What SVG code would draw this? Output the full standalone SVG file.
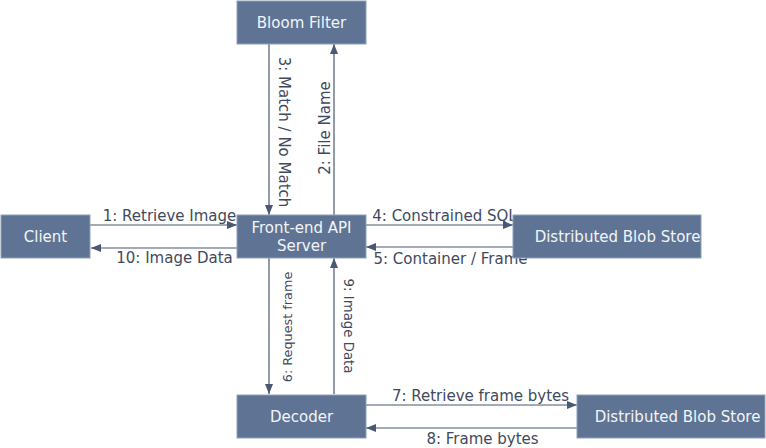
<svg xmlns="http://www.w3.org/2000/svg" width="766" height="448" viewBox="0 0 766 448">
<defs>
<marker id="ah" viewBox="0 0 10 8" refX="10" refY="4" markerWidth="10" markerHeight="8" markerUnits="userSpaceOnUse" orient="auto">
<path d="M0,0 L10,4 L0,8 z" fill="#4a5873"/>
</marker>
<style>
.node rect{fill:#5f7494;stroke:#8fa0b8;stroke-width:1}
.node text{font-family:"DejaVu Sans",sans-serif;font-size:15px;fill:#f2f4f7;text-anchor:middle}
.edge line{stroke:#4a5873;stroke-width:1.2;marker-end:url(#ah)}
.lbl{font-family:"DejaVu Sans",sans-serif;font-size:15px;fill:#3f4a5e;text-anchor:middle}
.vl{font-family:"DejaVu Sans",sans-serif;font-size:15px;fill:#3f4a5e;text-anchor:middle}
</style>
</defs>
<rect width="766" height="448" fill="#ffffff"/>
<g id="connectors" class="edge">
<line x1="90" y1="225" x2="237" y2="225"/>
<line x1="237" y1="248" x2="91" y2="248"/>
<line x1="366" y1="225" x2="513" y2="225"/>
<line x1="513" y1="247" x2="366" y2="247"/>
<line x1="269" y1="44" x2="269" y2="215"/>
<line x1="334" y1="215" x2="334" y2="44"/>
<line x1="269" y1="258" x2="269" y2="394"/>
<line x1="334" y1="394" x2="334" y2="258"/>
<line x1="366" y1="405" x2="577" y2="405"/>
<line x1="577" y1="428" x2="366" y2="428"/>
</g>
<g id="labels">
<text class="lbl" x="169.5" y="221">1: Retrieve Image</text>
<text class="lbl" x="174.5" y="263">10: Image Data</text>
<text class="lbl" x="444.5" y="221">4: Constrained SQL</text>
<text class="lbl" x="450.5" y="264">5: Container / Frame</text>
<text class="lbl" x="480.5" y="401">7: Retrieve frame bytes</text>
<text class="lbl" x="482.5" y="444">8: Frame bytes</text>
<text class="vl" transform="translate(279,132) rotate(90)">3: Match / No Match</text>
<text class="vl" transform="translate(330,128) rotate(-90)">2: File Name</text>
<text class="vl" transform="translate(292,327) rotate(-90)" style="font-size:12.8px">6: Request frame</text>
<text class="vl" transform="translate(344,326) rotate(90)" style="font-size:13.3px">9: Image Data</text>
</g>
<g id="bloom" class="node"><rect x="237" y="1" width="129" height="43"/><text x="301.5" y="27.5">Bloom Filter</text></g>
<g id="client" class="node"><rect x="1" y="215" width="89" height="43"/><text x="45.5" y="241.5">Client</text></g>
<g id="frontend" class="node"><rect x="237" y="215" width="129" height="43"/><text x="301.5" y="233">Front-end API</text><text x="301.5" y="251">Server</text></g>
<g id="blob1" class="node"><rect x="513" y="215" width="188" height="43"/><text x="617.5" y="241.5">Distributed Blob Store</text></g>
<g id="decoder" class="node"><rect x="237" y="395" width="129" height="43"/><text x="301.5" y="421.5">Decoder</text></g>
<g id="blob2" class="node"><rect x="577" y="395" width="188" height="43"/><text x="677.5" y="421.5">Distributed Blob Store</text></g>
</svg>
